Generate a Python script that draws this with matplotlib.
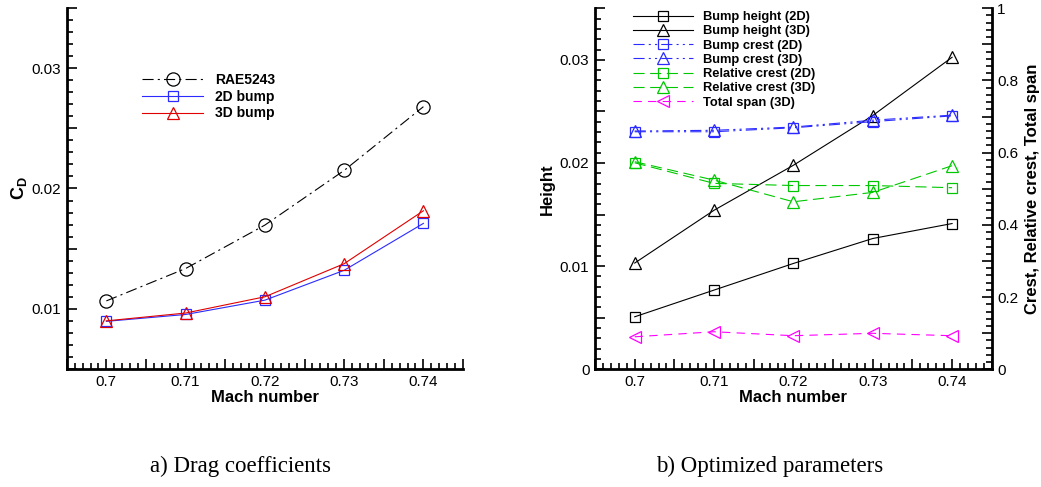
import numpy as np
import matplotlib
matplotlib.use("Agg")
import matplotlib.pyplot as plt
from matplotlib.ticker import MultipleLocator, FuncFormatter

# ---------------- data ----------------
mach = [0.70, 0.71, 0.72, 0.73, 0.74]

# a) drag coefficients
cd_rae5243 = [0.01066, 0.01335, 0.01696, 0.02150, 0.02680]
cd_2d_bump = [0.00896, 0.00953, 0.01072, 0.01320, 0.01710]
cd_3d_bump = [0.00900, 0.00965, 0.01100, 0.01375, 0.01815]

# b) optimized parameters (left axis: height)
height_2d = [0.00509, 0.00768, 0.01026, 0.01268, 0.01413]
height_3d = [0.01030, 0.01542, 0.01978, 0.02460, 0.03025]

# b) optimized parameters (right axis)
crest_2d = [0.658, 0.658, 0.669, 0.686, 0.702]
crest_3d = [0.660, 0.662, 0.671, 0.690, 0.704]
rel_crest_2d = [0.572, 0.515, 0.509, 0.509, 0.503]
rel_crest_3d = [0.575, 0.524, 0.464, 0.490, 0.564]
total_span_3d = [0.090, 0.104, 0.093, 0.0997, 0.093]

# ---------------- style ----------------
plt.rcParams["font.family"] = ["Liberation Sans", "DejaVu Sans"]
plt.rcParams["mathtext.fontset"] = "custom"
plt.rcParams["mathtext.rm"] = "Liberation Sans"
plt.rcParams["mathtext.bf"] = "Liberation Sans:bold"
plt.rcParams["lines.scale_dashes"] = False

BLUE = "#2b2bff"
RED = "#e00000"
GREEN = "#00c800"
MAGENTA = "#ff00ff"

DASHDOT = (0, (8, 3, 1.5, 3))
DASHDOTDOT = (0, (8, 3, 1.5, 3, 1.5, 3))
LONGDASH = (0, (8, 4))
SHORTDASH = (0, (6, 4.5))

LW = 0.8
MEW = 0.9


def fmt_every(step):
    def f(v, pos):
        k = v / step
        if abs(k - round(k)) > 1e-6:
            return ""
        return f"{round(k) * step:.10g}"
    return FuncFormatter(f)


def style_axis(ax):
    for side in ("left", "bottom", "right"):
        ax.spines[side].set_linewidth(2.0)
    ax.spines["top"].set_visible(False)
    ax.tick_params(which="both", direction="in", width=1.2, labelsize=11,
                   colors="black")
    ax.tick_params(which="major", length=7)
    ax.tick_params(which="minor", length=4)
    ax.tick_params(axis="x", pad=4)
    ax.tick_params(axis="y", pad=4)
    ax.set_xlim(0.695, 0.745)
    ax.xaxis.set_major_locator(MultipleLocator(0.005))
    ax.xaxis.set_minor_locator(MultipleLocator(0.001))
    ax.xaxis.set_major_formatter(fmt_every(0.01))
    ax.set_xlabel("Mach number", fontsize=12, fontweight="bold", labelpad=1)


fig = plt.figure(figsize=(10.41, 4.87), dpi=100)

# ---------------- a) drag coefficients ----------------
ax1 = fig.add_axes([0.0641, 0.2423, 0.3807, 0.7413])
style_axis(ax1)
ax1.spines["right"].set_visible(False)
ax1.set_ylim(0.005, 0.035)
ax1.yaxis.set_major_locator(MultipleLocator(0.005))
ax1.yaxis.set_minor_locator(MultipleLocator(0.001))
ax1.yaxis.set_major_formatter(fmt_every(0.01))

ax1.plot(mach, cd_rae5243, color="black", lw=LW, ls=DASHDOT, marker="o",
         ms=9.5, mfc="none", mew=MEW, label="RAE5243")
ax1.plot(mach, cd_2d_bump, color=BLUE, lw=LW, ls="-", marker="s",
         ms=6.8, mfc="none", mew=MEW, label="2D bump")
ax1.plot(mach, cd_3d_bump, color=RED, lw=LW, ls="-", marker="^",
         ms=8, mfc="none", mew=MEW, label="3D bump")

ax1.set_ylabel(r"$\mathbf{C_D}$", fontsize=13)
ax1.yaxis.set_label_coords(-0.095, 0.5)

leg1 = ax1.legend(loc="upper left", bbox_to_anchor=(0.19, 0.821),
                  frameon=False, borderpad=0, borderaxespad=0,
                  handlelength=4.4, handletextpad=0.85, labelspacing=0.21,
                  numpoints=1, prop={"weight": "bold", "size": 10})

# ---------------- b) optimized parameters ----------------
ax2 = fig.add_axes([0.5716, 0.2417, 0.3811, 0.7413])
style_axis(ax2)
ax2.spines["right"].set_visible(False)
ax2.set_ylim(0.0, 0.035)
ax2.yaxis.set_major_locator(MultipleLocator(0.005))
ax2.yaxis.set_minor_locator(MultipleLocator(0.001))
ax2.yaxis.set_major_formatter(fmt_every(0.01))
ax2.set_ylabel("Height", fontsize=12, fontweight="bold")
ax2.yaxis.set_label_coords(-0.10, 0.5)

ax3 = ax2.twinx()
ax3.set_position(ax2.get_position())
for side in ("left", "bottom", "top"):
    ax3.spines[side].set_visible(False)
ax3.spines["right"].set_linewidth(2.0)
ax3.set_ylim(0.0, 1.0)
ax3.yaxis.set_major_locator(MultipleLocator(0.1))
ax3.yaxis.set_minor_locator(MultipleLocator(0.02))
ax3.yaxis.set_major_formatter(fmt_every(0.2))
ax3.tick_params(which="both", direction="in", width=1.2, labelsize=11, pad=4)
ax3.tick_params(which="major", length=7)
ax3.tick_params(which="minor", length=4)
ax3.set_ylabel("Crest, Relative crest, Total span", fontsize=12,
               fontweight="bold")
ax3.yaxis.set_label_coords(1.085, 0.5)

h = []
h += ax2.plot(mach, height_2d, color="black", lw=LW, ls="-", marker="s",
              ms=6.8, mfc="none", mew=MEW, label="Bump height (2D)")
h += ax2.plot(mach, height_3d, color="black", lw=LW, ls="-", marker="^",
              ms=8, mfc="none", mew=MEW, label="Bump height (3D)")
h += ax3.plot(mach, crest_2d, color=BLUE, lw=LW, ls=DASHDOTDOT, marker="s",
              ms=6.8, mfc="none", mew=MEW, label="Bump crest (2D)")
h += ax3.plot(mach, crest_3d, color=BLUE, lw=LW, ls=DASHDOTDOT, marker="^",
              ms=8, mfc="none", mew=MEW, label="Bump crest (3D)")
h += ax3.plot(mach, rel_crest_2d, color=GREEN, lw=LW, ls=LONGDASH, marker="s",
              ms=6.8, mfc="none", mew=MEW, label="Relative crest (2D)")
h += ax3.plot(mach, rel_crest_3d, color=GREEN, lw=LW, ls=LONGDASH, marker="^",
              ms=8, mfc="none", mew=MEW, label="Relative crest (3D)")
h += ax3.plot(mach, total_span_3d, color=MAGENTA, lw=LW, ls=SHORTDASH,
              marker="<", ms=8, mfc="none", mew=MEW, label="Total span (3D)")

leg2 = ax3.legend(handles=h, loc="upper left", bbox_to_anchor=(0.096, 0.992),
                  frameon=False, borderpad=0, borderaxespad=0,
                  handlelength=4.6, handletextpad=0.8, labelspacing=0.17,
                  numpoints=1, prop={"weight": "bold", "size": 9.3})

# ---------------- captions ----------------
cap = dict(ha="center", va="center", fontsize=16.5,
           family=["Liberation Serif", "DejaVu Serif"])
fig.text(240 / 1041, 1 - 466 / 487, "a) Drag coefficients", **cap)
fig.text(770 / 1041, 1 - 466 / 487, "b) Optimized parameters", **cap)

fig.savefig("out.png", dpi=100)
